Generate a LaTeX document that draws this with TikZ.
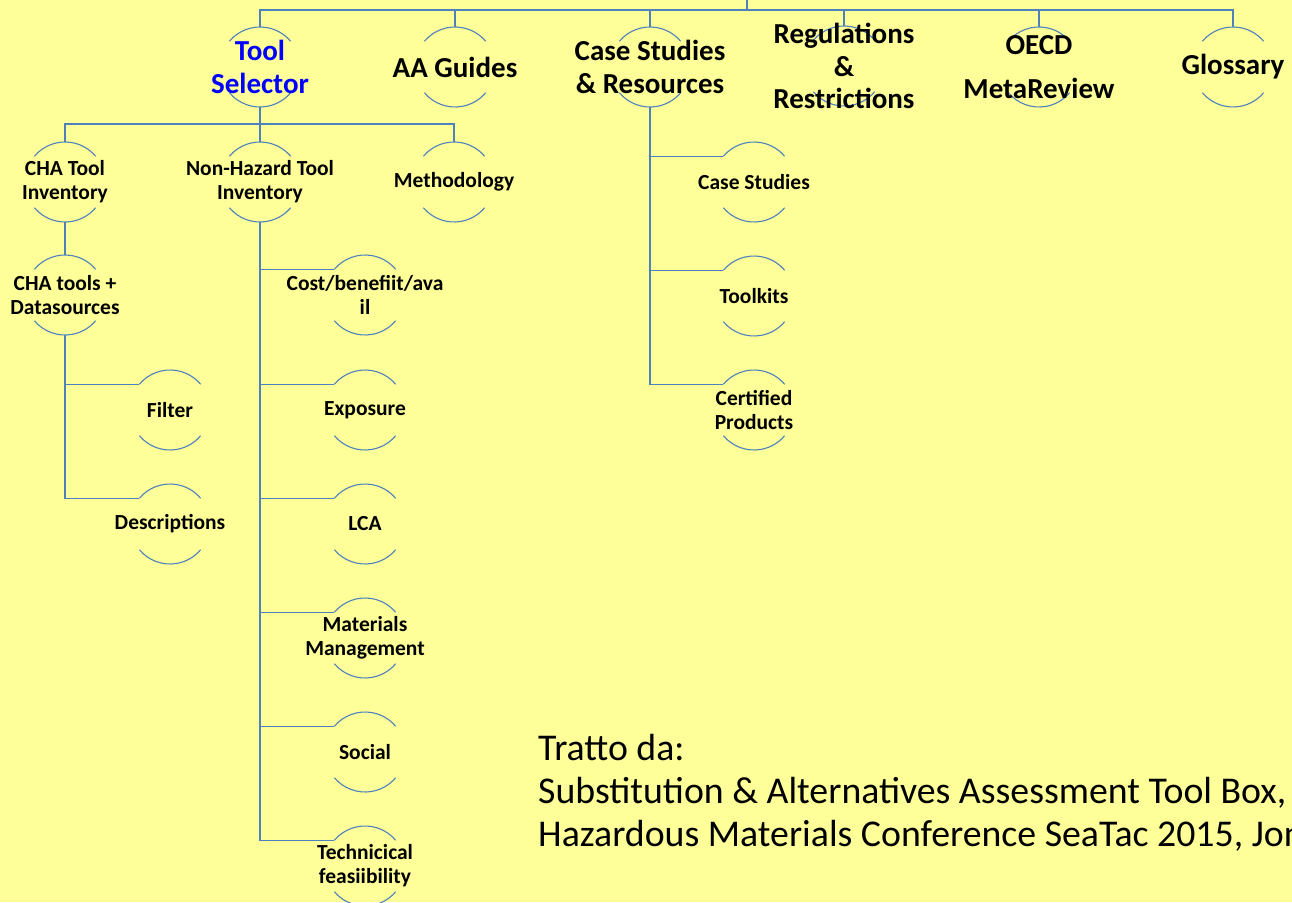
\documentclass[tikz,border=0pt]{standalone}
\usepackage{fontspec}
\setmainfont{Carlito}
\usetikzlibrary{backgrounds}
\definecolor{bgyellow}{RGB}{255,255,153}
\definecolor{linkblue}{RGB}{79,129,189}
\definecolor{selblue}{RGB}{0,0,255}
\tikzset{
  bub/.style={circle, minimum size=80pt, inner sep=0pt, outer sep=0pt},
  headtxt/.style={font=\fontsize{29}{33}\selectfont\bfseries, align=center},
  subtxt/.style={font=\fontsize{21.5}{24}\selectfont\bfseries, align=center},
  note/.style={font=\fontsize{37.8}{43}\selectfont, align=left, inner sep=0pt},
  link/.style={draw=linkblue, line width=1.5pt},
  arcline/.style={draw=linkblue, line width=1.1pt},
}
\begin{document}
\begin{tikzpicture}[x=1pt,y=-1pt]
  \useasboundingbox (0,0) rectangle (1292,902);
  \clip (0,0) rectangle (1292,902);

  % first level
  \node[bub, label={[headtxt, text=selblue]center:{Tool\\Selector}}] (tool) at (260,67) {};
  \node[bub, label={[headtxt]center:{AA Guides}}] (aa) at (455,67) {};
  \node[bub, label={[headtxt]center:{Case Studies\\\& Resources}}] (case) at (650,67) {};
  \node[bub, label={[headtxt, font=\fontsize{29}{32.5}\selectfont\bfseries]center:{Regulations\\\&\\Restrictions}}] (regs) at (844,66) {};
  \node[bub, label={[headtxt]center:{OECD\\[11pt]MetaReview}}] (oecd) at (1039,67) {};
  \node[bub, label={[headtxt]center:{Glossary}}] (glos) at (1233,67) {};

  % tool selector
  \node[bub, label={[subtxt]center:{CHA Tool\\Inventory}}] (cha) at (65,182) {};
  \node[bub, label={[subtxt]center:{Non-Hazard Tool\\Inventory}}] (nonhaz) at (260,182) {};
  \node[bub, label={[subtxt]center:{Methodology}}] (meth) at (454,182) {};
  \node[bub, label={[subtxt]center:{CHA tools +\\Datasources}}] (chatools) at (65,295) {};
  \node[bub, label={[subtxt]center:{Filter}}] (filter) at (170,410) {};
  \node[bub, label={[subtxt]center:{Descriptions}}] (descr) at (170,524) {};
  \node[bub, label={[subtxt]center:{Cost/benefiit/ava\\il}}] (cost) at (365,295) {};
  \node[bub, label={[subtxt]center:{Exposure}}] (expo) at (365,410) {};
  \node[bub, label={[subtxt]center:{LCA}}] (lca) at (365,524) {};
  \node[bub, label={[subtxt]center:{Materials\\Management}}] (matm) at (365,638) {};
  \node[bub, label={[subtxt]center:{Social}}] (social) at (365,752) {};
  \node[bub, label={[subtxt]center:{Technicical\\feasiibility}}] (tech) at (365,866) {};

  % case studies
  \node[bub, label={[subtxt]center:{Case Studies}}] (cstud) at (754,182) {};
  \node[bub, label={[subtxt]center:{Toolkits}}] (tkits) at (754,296) {};
  \node[bub, label={[subtxt]center:{Certified\\Products}}] (cert) at (754,410) {};

  \node[note, anchor=base west] (src) at (538,846) {Tratto da:\\Substitution \& Alternatives Assessment Tool Box,\\Hazardous Materials Conference SeaTac 2015, Jon};

  \begin{pgfonlayer}{background}
    \fill[bgyellow] (0,0) rectangle (1292,902);
    \begin{scope}[y=1pt]
      \foreach \n in {tool,aa,case,regs,oecd,glos,cha,nonhaz,meth,chatools,filter,descr,
                      cost,expo,lca,matm,social,tech,cstud,tkits,cert} {
        \draw[arcline] (\n.140) arc[start angle=140, end angle=40, radius=40pt];
        \draw[arcline] (\n.220) arc[start angle=220, end angle=320, radius=40pt];
      }
    \end{scope}
  \end{pgfonlayer}

  \coordinate (root) at (747,-20);
  \coordinate (bar) at (747,10);
  \coordinate (tbar) at (260,124);
  \draw[link] (root) -- (bar);
  \draw[link] (tool.north) |- (bar) -| (glos.north);
  \foreach \n in {aa,case,regs,oecd}
    \draw[link] (\n.north) -- (\n.north |- bar);
  \draw[link] (tool.south) -- (nonhaz.north);
  \draw[link] (cha.north) |- (tbar) -| (meth.north);
  \draw[link] (cha.south) -- (chatools.north);
  \foreach \n in {filter,descr}
    \draw[link] (chatools.south) |- (\n.140);
  \foreach \n in {cost,expo,lca,matm,social,tech}
    \draw[link] (nonhaz.south) |- (\n.140);
  \foreach \n in {cstud,tkits,cert}
    \draw[link] (case.south) |- (\n.140);
\end{tikzpicture}
\end{document}
